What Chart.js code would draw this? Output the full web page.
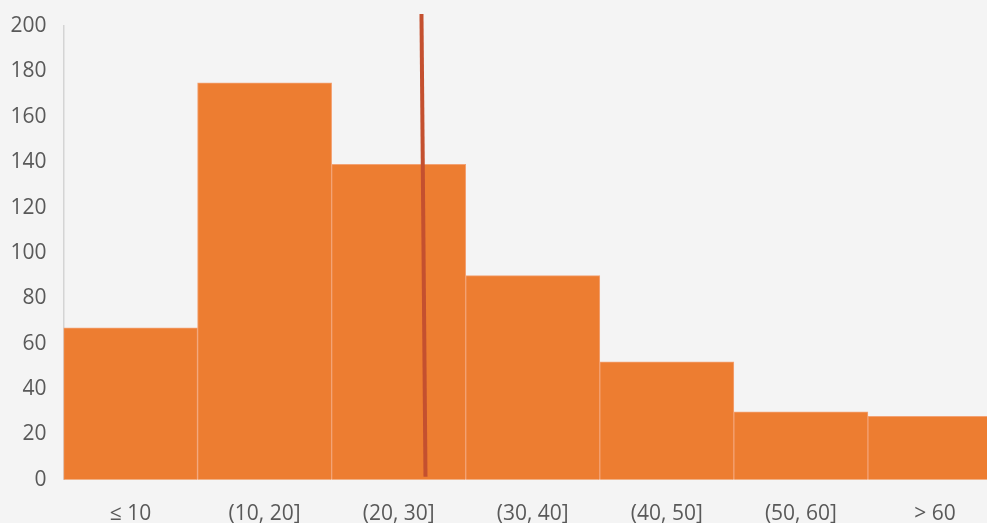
<!DOCTYPE html>
<html>
<head>
<meta charset="utf-8">
<script src="https://cdn.jsdelivr.net/npm/chart.js@4/dist/chart.umd.min.js"></script>
<style>
    html, body { margin: 0; padding: 0; background: #f4f4f4; overflow: hidden; }
    #wrap { width: 1002px; height: 541px; position: relative; }
</style>
</head>
<body>
<div id="wrap"><canvas id="chart"></canvas></div>
<script>
// --- Data ---
const binLabels = ['≤ 10', '(10, 20]', '(20, 30]', '(30, 40]', '(40, 50]', '(50, 60]', '> 60'];
const binCounts = [67, 175, 139, 90, 52, 30, 28];

// reference marker (vertical line), in bin units 0..70 and counts
const markerX = [26.7, 27.0];
const markerY = [205.3, 1.3];

const yTickStep = 20;
const yMax = 200;

const textColor = '#595959';
const fontFamily = "'Open Sans', 'Noto Sans', sans-serif";

new Chart(document.getElementById('chart'), {
    type: 'bar',
    data: {
        labels: binLabels,
        datasets: [
            {
                type: 'line',
                data: markerX.map((x, i) => ({ x: x, y: markerY[i] })),
                xAxisID: 'x2',
                borderColor: '#c4502f',
                borderWidth: 4,
                pointRadius: 0,
                clip: false,
                order: 0,
            },
            {
                data: binCounts,
                backgroundColor: '#ed7d31',
                borderColor: '#f3a274',
                borderWidth: 1,
                barPercentage: 1,
                categoryPercentage: 1,
                grouped: false,
                order: 1,
            },
        ]
    },
    options: {
        responsive: true,
        maintainAspectRatio: false,
        animation: false,
        layout: { padding: { top: 26, right: 0, left: 0, bottom: 0 } },
        plugins: { legend: { display: false }, tooltip: { enabled: false } },
        scales: {
            x: {
                grid: { display: false },
                border: { display: false },
                ticks: { color: textColor, padding: 14, font: { size: 21, family: fontFamily } },
            },
            x2: {
                type: 'linear',
                display: false,
                offset: false,
                min: 0,
                max: 70,
            },
            y: {
                min: 0,
                max: yMax,
                grid: { display: false },
                border: { display: true, color: '#d4d4d4', width: 1.5 },
                ticks: { stepSize: yTickStep, color: textColor, padding: 9, font: { size: 21, family: fontFamily } },
                afterFit: s => { s.width = 63.5; },
            }
        }
    }
});
</script>
</body>
</html>
